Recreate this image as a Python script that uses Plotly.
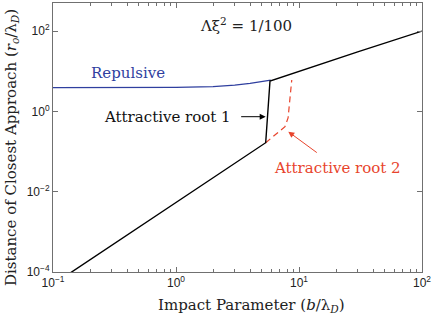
import plotly.graph_objects as go

# Repulsive branch
rep_b = [0.1, 0.3, 1.0, 2.0, 3.0, 4.0, 5.0, 5.9]
rep_r = [3.9, 3.9, 3.97, 4.15, 4.5, 5.0, 5.5, 6.0]

# Attractive root 1 (black)
att1_b = [0.1, 0.3, 1.0, 3.0, 5.36, 5.81, 10.0, 30.0, 100.0]
att1_r = [4.9e-5, 4.6e-4, 5.3e-3, 0.050, 0.166, 5.7, 10.0, 30.5, 100.0]

# Attractive root 2 (red dashed)
att2_b = [5.36, 7.69, 8.15, 8.45, 8.73]
att2_r = [0.166, 0.416, 0.686, 1.92, 6.04]

x_tickvals = [0.1, 1, 10, 100]
x_ticktext = ["10<sup>−1</sup>", "10<sup>0</sup>", "10<sup>1</sup>", "10<sup>2</sup>"]
y_tickvals = [1e-4, 1e-2, 1, 100]
y_ticktext = ["10<sup>−4</sup>", "10<sup>−2</sup>", "10<sup>0</sup>", "10<sup>2</sup>"]

BLUE = "#2f3f9f"
RED = "#e8442c"
SERIF = "DejaVu Serif"

fig = go.Figure()
fig.add_trace(go.Scatter(x=rep_b, y=rep_r, mode="lines",
                         line=dict(color=BLUE, width=1.2), showlegend=False))
fig.add_trace(go.Scatter(x=att2_b, y=att2_r, mode="lines",
                         line=dict(color=RED, width=1.2, dash="6px,4px"), showlegend=False))
fig.add_trace(go.Scatter(x=att1_b, y=att1_r, mode="lines",
                         line=dict(color="black", width=1.4), showlegend=False))

axis_common = dict(type="log", showline=True, linecolor="#707070", linewidth=1,
                   mirror="ticks", ticks="inside", tickcolor="#707070", ticklen=5,
                   showgrid=False, zeroline=False,
                   tickfont=dict(family="Liberation Sans", size=12, color="#222"))

fig.update_xaxes(**axis_common, range=[-1, 2], tickvals=x_tickvals, ticktext=x_ticktext,
                 minor=dict(ticks="inside", ticklen=3, tickcolor="#707070",
                            tickvals=[v * m for v in [0.1, 1, 10] for m in range(2, 10)]))
fig.update_yaxes(**axis_common, range=[-4, 2.7], tickvals=y_tickvals, ticktext=y_ticktext)

title_font = dict(family=SERIF, size=15, color="#222")
fig.add_annotation(x=0.537, y=-0.123, xref="paper", yref="paper",
                   text="Impact Parameter (<i>b</i>/λ<sub><i>D</i></sub>)",
                   showarrow=False, xanchor="center", yanchor="middle", font=title_font)
fig.add_annotation(x=-0.111, y=0.461, xref="paper", yref="paper",
                   text="Distance of Closest Approach (<i>r<sub>o</sub></i>/λ<sub><i>D</i></sub>)",
                   showarrow=False, xanchor="center", yanchor="middle", textangle=-90,
                   font=title_font)

ann_font = dict(family=SERIF, size=15)
fig.add_annotation(x=-0.707, y=0.948, xref="x", yref="y", text="Repulsive", showarrow=False,
                   xanchor="left", yanchor="middle", font=dict(**ann_font, color=BLUE))
fig.add_annotation(x=0.179, y=2.149, xref="x", yref="y", text="Λξ<sup>2</sup> = 1/100",
                   showarrow=False, xanchor="left", yanchor="middle",
                   font=dict(**ann_font, color="#222"))
fig.add_annotation(x=0.4634, y=-0.132, xref="x", yref="y", text="Attractive root 1",
                   showarrow=False, xanchor="right", yanchor="middle",
                   font=dict(**ann_font, color="#111"))
fig.add_annotation(x=0.778, y=-1.415, xref="x", yref="y", text="Attractive root 2",
                   showarrow=False, xanchor="left", yanchor="middle",
                   font=dict(**ann_font, color=RED))
fig.add_annotation(x=0.729, y=-0.132, xref="x", yref="y", text="", showarrow=True,
                   ax=-26, ay=0, arrowhead=2, arrowsize=1.2, arrowwidth=1, arrowcolor="black")
fig.add_annotation(x=0.913, y=-0.505, xref="x", yref="y", text="", showarrow=True,
                   ax=30, ay=22, arrowhead=2, arrowsize=1.2, arrowwidth=1, arrowcolor=RED)

fig.update_layout(width=436, height=317, margin=dict(l=53, r=14, t=3, b=45),
                  plot_bgcolor="white", paper_bgcolor="white")

fig.write_html("out.html", config={"displayModeBar": False},
               post_script="document.body.style.margin='0';")
